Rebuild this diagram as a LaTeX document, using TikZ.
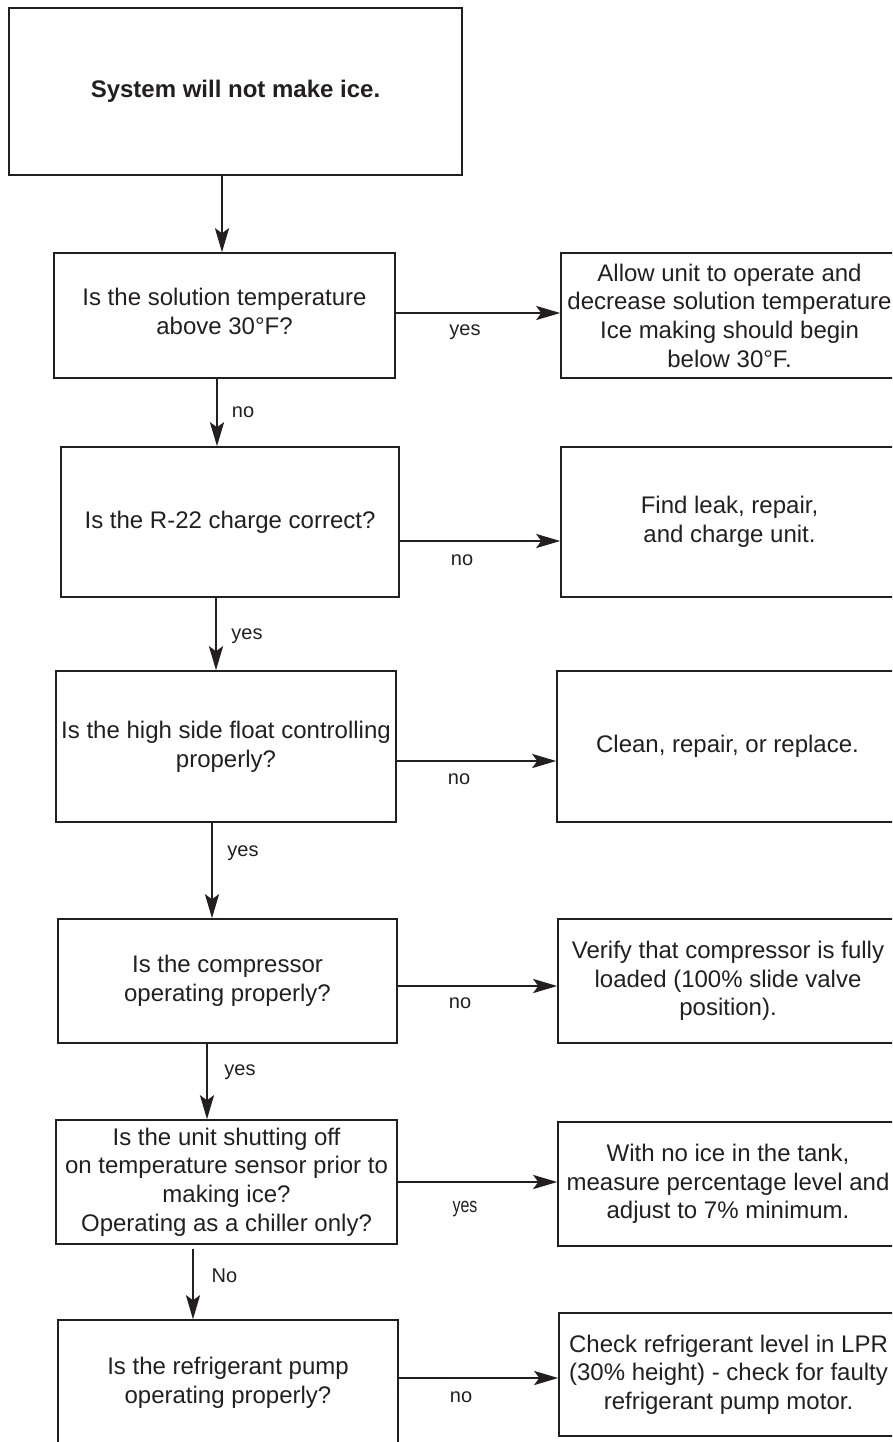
\documentclass[tikz,border=0pt]{standalone}
\usepackage{fontspec}
\setmainfont{Liberation Sans}
\usetikzlibrary{arrows.meta}
\definecolor{ink}{HTML}{231F20}
\begin{document}
\begin{tikzpicture}[x=1pt,y=-1pt,
  box/.style={draw=ink, line width=1.5pt, inner sep=0pt, align=center, text=ink,
    font=\fontsize{24}{28.7}\selectfont},
  arr/.style={draw=ink, line width=2.6pt, -{Stealth[length=24pt,width=14pt,inset=5pt]}},
  lbl/.style={text=ink, font=\fontsize{20}{24}\selectfont, inner sep=0pt}]
\useasboundingbox (0,0) rectangle (892,1442);
\clip (0,0) rectangle (892,1442);

% start box
\node[box, minimum width=453pt, minimum height=167pt, font=\fontsize{24}{28.7}\selectfont\bfseries]
  (start) at (235.5,91.5) {System will not make ice.};

% questions (left column)
\node[box, minimum width=341pt, minimum height=125pt] (q1) at (224.5,315.5)
  {Is the solution temperature\\above 30°F?\\[-20pt]};
\node[box, minimum width=338pt, minimum height=150pt] (q2) at (230,522)
  {Is the R-22 charge correct?};
\node[box, minimum width=340pt, minimum height=151pt] (q3) at (226,746.5)
  {Is the high side float controlling\\properly?};
\node[box, minimum width=339pt, minimum height=124pt] (q4) at (227.5,981)
  {Is the compressor\\operating properly?};
\node[box, minimum width=341pt, minimum height=124pt] (q5) at (226.5,1182)
  {Is the unit shutting off\\on temperature sensor prior to\\making ice?\\Operating as a chiller only?};
\node[box, minimum width=340pt, minimum height=126pt] (q6) at (228,1383)
  {Is the refrigerant pump\\operating properly?};

% actions (right column)
\node[box, minimum width=337pt, minimum height=125pt] (a1) at (729.5,315.5)
  {Allow unit to operate and\\decrease solution temperature\\Ice making should begin\\below 30°F.};
\node[box, minimum width=337pt, minimum height=150pt] (a2) at (729.5,522)
  {Find leak, repair,\\and charge unit.};
\node[box, minimum width=341pt, minimum height=151pt] (a3) at (727.5,746.5)
  {Clean, repair, or replace.};
\node[box, minimum width=340pt, minimum height=124pt] (a4) at (728,981)
  {Verify that compressor is fully\\loaded (100\% slide valve\\position).};
\node[box, minimum width=340pt, minimum height=124pt] (a5) at (728,1184)
  {With no ice in the tank,\\measure percentage level and\\adjust to 7\% minimum.};
\node[box, minimum width=339pt, minimum height=123pt] (a6) at (728.5,1374.5)
  {Check refrigerant level in LPR\\(30\% height) - check for faulty\\refrigerant pump motor.};

% vertical connectors
\draw[arr] (start.south -| 222,0) -- (q1.north -| 222,0);
\draw[arr] (q1.south -| 217,0) -- (q2.north -| 217,0);
\draw[arr] (q2.south -| 216,0) -- (q3.north -| 216,0);
\draw[arr] (q3.south -| 212,0) -- (q4.north -| 212,0);
\draw[arr] (q4.south -| 207,0) -- (q5.north -| 207,0);
\draw[arr, shorten <=4pt] (q5.south -| 193,0) -- (q6.north -| 193,0);

\node[lbl] (l1) at (243,412) {no};
\node[lbl] (l2) at (247,636) {yes};
\node[lbl] (l3) at (243,853) {yes};
\node[lbl] (l4) at (240,1072) {yes};
\node[lbl] (l5) at (224.5,1276) {No};

% horizontal connectors
\draw[arr] (q1.east |- 0,313) -- (a1.west |- 0,313);
\draw[arr] (q2.east |- 0,541) -- (a2.west |- 0,541);
\draw[arr] (q3.east |- 0,761) -- (a3.west |- 0,761);
\draw[arr] (q4.east |- 0,986) -- (a4.west |- 0,986);
\draw[arr] (q5.east |- 0,1182) -- (a5.west |- 0,1182);
\draw[arr] (q6.east |- 0,1378) -- (a6.west |- 0,1378);

\node[lbl] (h1) at (465,332) {yes};
\node[lbl] (h2) at (462,560) {no};
\node[lbl] (h3) at (459,779) {no};
\node[lbl] (h4) at (460,1003) {no};
\node[lbl] (h5) at (465,1209) {\scalebox{0.8}[1.05]{yes}};
\node[lbl] (h6) at (461,1397) {no};
\end{tikzpicture}
\end{document}
